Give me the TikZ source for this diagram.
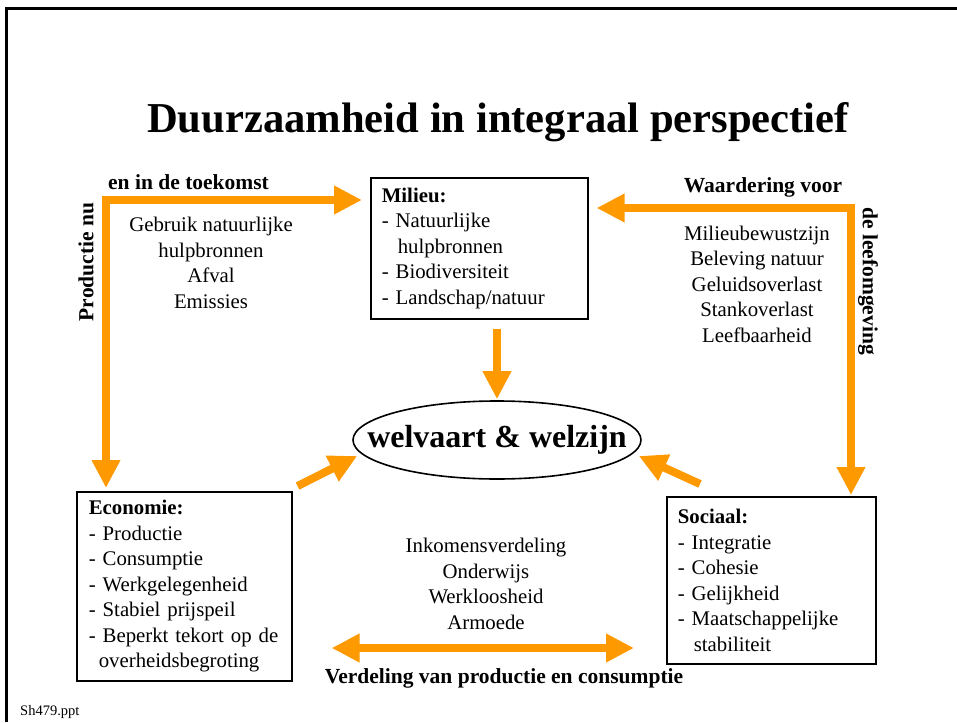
\documentclass[tikz,border=0pt]{standalone}
\usepackage{fontspec}
\setmainfont{Liberation Serif}
\usetikzlibrary{arrows.meta,shapes.geometric}

\definecolor{oranje}{HTML}{FF9900}

\begin{document}
\begin{tikzpicture}[x=1pt,y=-1pt,
        flow/.style={draw=oranje, line width=8pt, line join=miter, -{Triangle[length=28pt,width=27pt]}},
        twoflow/.style={flow, {Triangle[length=28pt,width=27pt]}-{Triangle[length=28pt,width=27pt]}},
        box/.style={draw, line width=1.6pt, anchor=north west, align=left, inner ysep=0pt, font=\fontsize{20.8}{25.5}\selectfont},
        lijst/.style={align=center, font=\fontsize{20.8}{25.5}\selectfont},
        kop/.style={inner sep=0pt, font=\bfseries\fontsize{21.5}{25}\selectfont}]

            \useasboundingbox (0,0) rectangle (957,722);
            \draw[line width=3pt] (6,722) -- (6,9) -- (957,9);

            \node[anchor=base, inner sep=0pt, font=\bfseries\fontsize{42.6}{48}\selectfont] (titel) at (498,133) {Duurzaamheid in integraal perspectief};

            \node[box, inner xsep=11pt, text width=195pt, minimum width=217pt, minimum height=141pt] (mil) at (370,177)
                {\textbf{Milieu:}\\- Natuurlijke\\\hspace*{16pt}hulpbronnen\\- Biodiversiteit\\- Landschap/natuur};
            \node[box, inner xsep=12pt, text width=191pt, minimum width=215pt, minimum height=189pt] (eco) at (76,491)
                {\textbf{Economie:}\\- Productie\\- Consumptie\\- Werkgelegenheid\\- Stabiel prijspeil\\\mbox{- Beperkt tekort op de}\\\hspace*{10pt}overheidsbegroting};
            \node[box, inner xsep=11pt, text width=187pt, minimum width=209pt, minimum height=167pt] (soc) at (666,496)
                {\textbf{Sociaal:}\\- Integratie\\- Cohesie\\- Gelijkheid\\- Maatschappelijke\\\hspace*{16pt}stabiliteit};
            \node[ellipse, draw, line width=1.6pt, inner sep=0pt, minimum width=288pt, minimum height=78pt, font=\bfseries\fontsize{32}{36}\selectfont] (wel) at (497,440) {\makebox[0pt]{welvaart \& welzijn}};

            \node[kop, anchor=base west] (toek) at (108,189) {en in de toekomst};
            \node[kop, rotate=90] (prodnu) at (86,262) {Productie nu};
            \node[kop, anchor=base] (waard) at (763,193) {Waardering voor};
            \node[kop, rotate=-90] (leef) at (868,281) {de leefomgeving};
            \node[kop, anchor=base] (verd) at (504,683) {Verdeling van productie en consumptie};

            \node[lijst] (gebruik) at (211,263) {Gebruik natuurlijke\\hulpbronnen\\Afval\\Emissies};
            \node[lijst] (bewust) at (757,284) {Milieubewustzijn\\Beleving natuur\\Geluidsoverlast\\Stankoverlast\\Leefbaarheid};
            \node[lijst] (inkomen) at (486,584) {Inkomensverdeling\\Onderwijs\\Werkloosheid\\Armoede};

            \node[anchor=base west, inner sep=0pt, font=\fontsize{14.5}{16}\selectfont] (bron) at (20,715) {Sh479.ppt};

            \coordinate (pn) at (106,0);
            \coordinate (en) at (0,200);
            \coordinate (wv) at (0,208);
            \coordinate (dl) at (851,0);
            \coordinate (vd) at (0,648);

            \draw[twoflow, shorten <=3pt, shorten >=8pt] (eco.north -| pn) |- (mil.west |- en);
            \draw[twoflow, shorten <=8pt, shorten >=1pt] (mil.east |- wv) -| (soc.north -| dl);
            \draw[flow, shorten <=9pt, shorten >=1pt] (mil.south -| wel.north) -- (wel.north);
            \draw[flow] ([shift={(5,-5)}]eco.north east) -- ([shift={(5,16)}]wel.west);
            \draw[flow] ([shift={(34,-12)}]soc.north west) -- ([shift={(-3,16)}]wel.east);
            \draw[twoflow, shorten <=39pt, shorten >=32pt] (eco.east |- vd) -- (soc.west |- vd);

          \end{tikzpicture}
\end{document}
